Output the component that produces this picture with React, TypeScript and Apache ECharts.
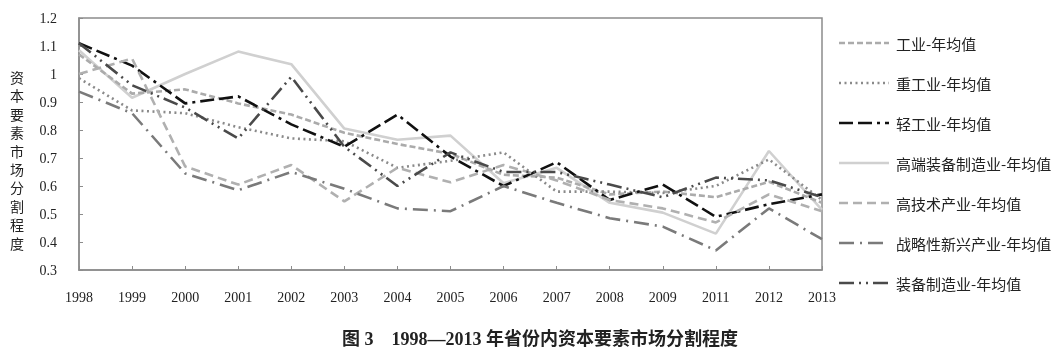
import React, { useEffect, useRef } from "react";
import * as echarts from "echarts";

const years = ["1998", "1999", "2000", "2001", "2002", "2003", "2004", "2005", "2006", "2007", "2008", "2009", "2011", "2012", "2013"];

const gongye = [1.07, 0.93, 0.945, 0.895, 0.855, 0.79, 0.75, 0.715, 0.64, 0.63, 0.57, 0.58, 0.56, 0.615, 0.54];
const zhonggongye = [0.985, 0.87, 0.86, 0.81, 0.77, 0.76, 0.665, 0.69, 0.72, 0.58, 0.58, 0.575, 0.6, 0.695, 0.55];
const qinggongye = [1.11, 1.03, 0.895, 0.92, 0.82, 0.74, 0.855, 0.705, 0.6, 0.685, 0.55, 0.605, 0.49, 0.535, 0.57];
const gaoduan = [1.085, 0.915, 1.0, 1.08, 1.035, 0.805, 0.765, 0.78, 0.61, 0.665, 0.54, 0.505, 0.43, 0.725, 0.515];
const gaojishu = [1.0, 1.055, 0.67, 0.605, 0.675, 0.545, 0.665, 0.613, 0.675, 0.62, 0.55, 0.52, 0.47, 0.57, 0.51];
const zhanlve = [0.937, 0.86, 0.645, 0.585, 0.65, 0.59, 0.52, 0.51, 0.6, 0.54, 0.485, 0.455, 0.37, 0.52, 0.41];
const zhuangbei = [1.11, 0.96, 0.88, 0.77, 0.99, 0.74, 0.6, 0.72, 0.65, 0.65, 0.605, 0.56, 0.63, 0.62, 0.56];

const seriesNames = [
  "工业-年均值",
  "重工业-年均值",
  "轻工业-年均值",
  "高端装备制造业-年均值",
  "高技术产业-年均值",
  "战略性新兴产业-年均值",
  "装备制造业-年均值",
];

const yTitle = "资本要素市场分割程度";
const caption = "图 3　1998—2013 年省份内资本要素市场分割程度";

export default function App() {
  const ref = useRef<HTMLDivElement>(null);
  useEffect(() => {
    if (!ref.current) return;
    const chart = echarts.init(ref.current, null, { renderer: "svg" });
    const styles: { color: string; type: any }[] = [
      { color: "#ababab", type: [6, 3] },
      { color: "#8a8a8a", type: [2, 3.5] },
      { color: "#111111", type: [14, 5, 14, 5, 3, 5] },
      { color: "#d0d0d0", type: "solid" },
      { color: "#b0b0b0", type: [9, 5] },
      { color: "#7a7a7a", type: [15, 6, 2, 6] },
      { color: "#4a4a4a", type: [15, 5, 2, 5, 2, 5] },
    ];
    const datas = [gongye, zhonggongye, qinggongye, gaoduan, gaojishu, zhanlve, zhuangbei];
    const serif = "'Liberation Serif', 'Noto Sans CJK SC', serif";
    const cjk = "'Noto Sans CJK SC', sans-serif";

    const legendGraphics: any[] = [];
    seriesNames.forEach((name, i) => {
      const y = 43 + i * 40;
      legendGraphics.push({
        type: "line",
        shape: { x1: 839, y1: y, x2: 889, y2: y },
        style: {
          stroke: styles[i].color,
          lineWidth: 2.6,
          lineDash: styles[i].type === "solid" ? null : styles[i].type,
        },
      });
      legendGraphics.push({
        type: "text",
        x: 896,
        y,
        style: { text: name, fontFamily: cjk, fontSize: 15, fill: "#222", verticalAlign: "middle" },
      });
    });

    const titleGraphics = yTitle.split("").map((ch, i) => ({
      type: "text",
      x: 17,
      y: 77 + i * 18.4,
      style: {
        text: ch,
        fontFamily: cjk,
        fontSize: 14,
        fill: "#222",
        align: "center",
        verticalAlign: "middle",
      },
    }));

    chart.setOption({
      animation: false,
      grid: {
        left: 79,
        right: 237,
        top: 18,
        bottom: 85,
        show: true,
        borderColor: "#8c8c8c",
        borderWidth: 1.5,
        containLabel: false,
      },
      xAxis: {
        type: "category",
        boundaryGap: false,
        data: years,
        axisLine: { lineStyle: { color: "#8c8c8c", width: 1.5 } },
        axisTick: { inside: true, length: 4, lineStyle: { color: "#8c8c8c" } },
        axisLabel: { margin: 20, fontFamily: serif, fontSize: 14, color: "#222" },
        splitLine: { show: false },
      },
      yAxis: {
        type: "value",
        min: 0.3,
        max: 1.2,
        interval: 0.1,
        axisLine: { show: true, lineStyle: { color: "#8c8c8c", width: 1.5 } },
        axisTick: { show: true, inside: true, length: 4, lineStyle: { color: "#8c8c8c" } },
        axisLabel: {
          margin: 22,
          fontFamily: serif,
          fontSize: 14,
          color: "#222",
          formatter: (v: number) => String(Math.round(v * 10) / 10),
        },
        splitLine: { show: false },
      },
      graphic: [
        ...legendGraphics,
        ...titleGraphics,
        {
          type: "text",
          x: 540,
          y: 339,
          style: {
            text: caption,
            fontFamily: serif,
            fontSize: 18,
            fontWeight: "bold",
            fill: "#222",
            align: "center",
            verticalAlign: "middle",
          },
        },
      ],
      series: seriesNames.map((name, i) => ({
        name,
        type: "line",
        data: datas[i],
        symbol: "none",
        showSymbol: false,
        smooth: false,
        z: i === 3 ? 1 : 2 + i,
        lineStyle: { color: styles[i].color, type: styles[i].type, width: 2.6 },
        itemStyle: { color: styles[i].color },
      })),
    });
    return () => chart.dispose();
  }, []);
  return <div ref={ref} style={{ position: "fixed", left: 0, top: 0, width: 1059, height: 355 }} />;
}
